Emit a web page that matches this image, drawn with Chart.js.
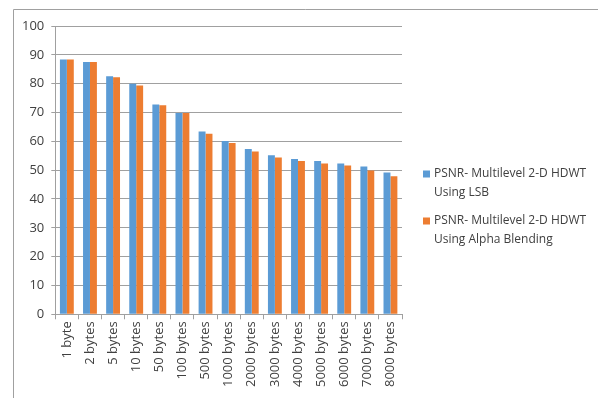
<!DOCTYPE html>
<html>
<head>
<meta charset="utf-8">
<script src="https://cdn.jsdelivr.net/npm/chart.js@4.4.1/dist/chart.umd.min.js"></script>
<style>
  html, body { margin: 0; padding: 0; background: #fff; }
  #wrap { position: relative; width: 598px; height: 398px; }
</style>
</head>
<body>
<div id="wrap"><canvas id="psnr"></canvas></div>
<script>
var payloadLabels = ['1 byte', '2 bytes', '5 bytes', '10 bytes', '50 bytes', '100 bytes', '500 bytes',
  '1000 bytes', '2000 bytes', '3000 bytes', '4000 bytes', '5000 bytes', '6000 bytes', '7000 bytes', '8000 bytes'];
var psnrLsb = [88.4, 87.5, 82.6, 80.0, 72.8, 69.8, 63.4, 60.1, 57.3, 55.2, 53.9, 53.2, 52.3, 51.3, 49.2];
var psnrAlpha = [88.4, 87.5, 82.2, 79.4, 72.5, 69.8, 62.6, 59.4, 56.5, 54.4, 53.2, 52.3, 51.6, 49.9, 47.9];
var seriesNames = [
  ['PSNR- Multilevel 2-D HDWT', 'Using LSB'],
  ['PSNR- Multilevel 2-D HDWT', 'Using Alpha Blending']
];
var yTicks = [0, 10, 20, 30, 40, 50, 60, 70, 80, 90, 100];

var fontFamily = '"Open Sans", "Liberation Sans", sans-serif';
var blue = '#5b9bd5';
var orange = '#ed7d31';

// outer frame (only top and left edges are visible in the original)
var framePlugin = {
  id: 'frame',
  beforeDraw: function (chart) {
    var ctx = chart.ctx;
    ctx.save();
    ctx.strokeStyle = '#a0a0a0';
    ctx.lineWidth = 1;
    ctx.beginPath();
    ctx.moveTo(13.5, 398);
    ctx.lineTo(13.5, 9.5);
    ctx.lineTo(598, 9.5);
    ctx.stroke();
    ctx.restore();
  }
};

// two-line legend on the right
var sideLegend = {
  id: 'sideLegend',
  afterDraw: function (chart) {
    var ctx = chart.ctx;
    var x = 423;
    var y = 174;
    ctx.save();
    ctx.font = '12px ' + fontFamily;
    ctx.textBaseline = 'middle';
    chart.data.datasets.forEach(function (ds, i) {
      ctx.fillStyle = ds.backgroundColor;
      ctx.fillRect(x, y - 3.5, 7, 7);
      ctx.fillStyle = '#404040';
      seriesNames[i].forEach(function (line, j) {
        ctx.fillText(line, x + 11, y + j * 19);
      });
      y += 47;
    });
    ctx.restore();
  }
};

var ctx = document.getElementById('psnr').getContext('2d');
new Chart(ctx, {
  type: 'bar',
  data: {
    labels: payloadLabels,
    datasets: [
      { label: seriesNames[0].join(' '), data: psnrLsb, backgroundColor: blue },
      { label: seriesNames[1].join(' '), data: psnrAlpha, backgroundColor: orange }
    ]
  },
  options: {
    responsive: true,
    maintainAspectRatio: false,
    animation: false,
    layout: { padding: { left: 15, top: 26, right: 196, bottom: 9 } },
    datasets: { bar: { categoryPercentage: 0.6, barPercentage: 1.0 } },
    plugins: {
      legend: { display: false },
      tooltip: { enabled: false }
    },
    scales: {
      x: {
        grid: { display: true, drawOnChartArea: false, drawTicks: true, tickLength: 5, color: '#a0a0a0' },
        border: { color: '#a0a0a0' },
        ticks: {
          minRotation: 90, maxRotation: 90, padding: 2,
          color: '#404040', font: { family: fontFamily, size: 13 }
        }
      },
      y: {
        min: 0, max: 100,
        afterBuildTicks: function (axis) {
          axis.ticks = yTicks.map(function (v) { return { value: v }; });
        },
        grid: { color: '#a0a0a0', tickLength: 4 },
        border: { color: '#a0a0a0' },
        ticks: { padding: 7, color: '#404040', font: { family: fontFamily, size: 13 } }
      }
    }
  },
  plugins: [framePlugin, sideLegend]
});
</script>
</body>
</html>
